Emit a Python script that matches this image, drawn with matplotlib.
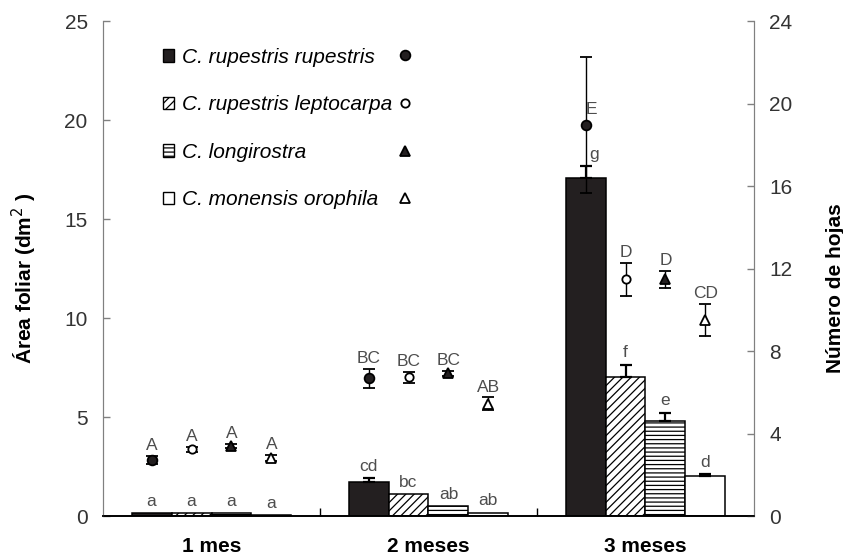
import numpy as np
import matplotlib
matplotlib.use("Agg")
import matplotlib.pyplot as plt
from matplotlib.patches import Patch
from matplotlib.lines import Line2D

plt.rcParams['font.family'] = ['Liberation Sans', 'DejaVu Sans']
plt.rcParams['hatch.linewidth'] = 0.9

meses = ['1 mes', '2 meses', '3 meses']
especies = ['C. rupestris rupestris', 'C. rupestris leptocarpa',
            'C. longirostra', 'C. monensis orophila']

# leaf area (dm2) -> bars, rows = species, columns = month
area = np.array([[0.15, 1.73, 17.05],
                 [0.15, 1.10, 7.00],
                 [0.15, 0.52, 4.80],
                 [0.03, 0.17, 2.00]])
area_err = np.array([[0.0, 0.17, 0.62],
                     [0.0, 0.0, 0.65],
                     [0.0, 0.0, 0.42],
                     [0.0, 0.0, 0.10]])
area_letras = [['a', 'cd', 'g'],
               ['a', 'bc', 'f'],
               ['a', 'ab', 'e'],
               ['a', 'ab', 'd']]

# number of leaves -> points on the right axis
hojas = np.array([[2.70, 6.67, 18.95],
                  [3.23, 6.72, 11.48],
                  [3.38, 6.92, 11.48],
                  [2.80, 5.45, 9.50]])
hojas_err = np.array([[0.20, 0.48, 3.30],
                      [0.12, 0.27, 0.80],
                      [0.10, 0.12, 0.42],
                      [0.15, 0.30, 0.77]])
hojas_letras = [['A', 'BC', 'E'],
                ['A', 'BC', 'D'],
                ['A', 'BC', 'D'],
                ['A', 'AB', 'CD']]

negro = '#231f20'
hatches = ['', '////', '----', '']
fills = [negro, 'white', 'white', 'white']
markers = ['o', 'o', '^', '^']
mfills = [negro, 'white', negro, 'white']
msizes = [7, 6, 7, 6.5]
gris = '#808080'
letra_color = '#4d4d4d'

fig = plt.figure(figsize=(8.43, 5.59), dpi=100)
ax = fig.add_axes([0.1222, 0.0769, 0.7722, 0.8855])
ax2 = ax.twinx()

centros = np.arange(3) + 0.5
w = 0.184
offsets = (np.arange(4) - 1.5) * w

for i in range(4):
    x = centros + offsets[i]
    ax.bar(x, area[i], width=w, color=fills[i], edgecolor='black',
           linewidth=1.1, hatch=hatches[i], zorder=2)
    con_err = area_err[i] > 0
    ax.errorbar(x[con_err], area[i][con_err],
                yerr=[np.zeros(con_err.sum()), area_err[i][con_err]],
                fmt='none', ecolor='black', elinewidth=1.6, capsize=4.5,
                capthick=1.6, zorder=3)
    for j in range(3):
        dx = 6 if (i, j) == (0, 2) else 0
        ax.annotate(area_letras[i][j], (x[j], area[i][j] + area_err[i][j]),
                    xytext=(dx, 3), textcoords='offset points',
                    ha='center', va='bottom', fontsize=12.5, color=letra_color)

    ax2.errorbar(x, hojas[i], yerr=hojas_err[i], fmt=markers[i],
                 color='black', mfc=mfills[i], mec='black', mew=1.3,
                 ms=msizes[i], elinewidth=1, capsize=4, capthick=1, zorder=4)
    for j in range(3):
        if (i, j) == (0, 2):
            # long error bar: letter goes next to the line, just above the mean
            ax2.annotate(hojas_letras[i][j], (x[j], hojas[i][j]),
                         xytext=(4.5, 6), textcoords='offset points',
                         ha='center', va='bottom', fontsize=12.5,
                         color=letra_color)
        else:
            ax2.annotate(hojas_letras[i][j],
                         (x[j], hojas[i][j] + hojas_err[i][j]),
                         xytext=(0, 2), textcoords='offset points',
                         ha='center', va='bottom', fontsize=12.5,
                         color=letra_color)

ax.set_xlim(0, 3)
ax.set_ylim(0, 25)
ax2.set_ylim(0, 24)
ax.set_yticks(np.arange(0, 26, 5))
ax2.set_yticks(np.arange(0, 25, 4))

ax.set_xticks([1, 2])
ax.set_xticklabels([])
ax.set_xticks(centros, minor=True)
ax.set_xticklabels(meses, minor=True, fontweight='bold', fontsize=15)
ax.tick_params(axis='x', which='major', direction='in', length=6,
               width=1, color='black')
ax.tick_params(axis='x', which='minor', length=0, pad=15)

ax.tick_params(axis='y', direction='in', length=5, width=1, color=gris,
               labelsize=15, labelcolor='#333333', pad=11)
ax2.tick_params(axis='y', direction='in', length=5, width=1, color=gris,
                labelsize=15, labelcolor='#333333', pad=11)

for a in (ax, ax2):
    a.spines['top'].set_visible(False)
    a.spines['left'].set_color(gris)
    a.spines['right'].set_color(gris)
    a.spines['bottom'].set_color('black')
    a.spines['bottom'].set_linewidth(1.2)
    a.patch.set_visible(False)

ax.set_ylabel('Área foliar (dm$^2$ )', fontsize=15, fontweight='bold')
ax.yaxis.set_label_coords(-0.098, 0.48)
ax2.set_ylabel('Número de hojas', fontsize=15, fontweight='bold')
ax2.yaxis.set_label_coords(1.11, 0.46)

barras_leg = [Patch(facecolor=fills[i], edgecolor='black', hatch=hatches[i],
                    linewidth=1) for i in range(4)]
leg1 = ax2.legend(barras_leg, especies, loc='upper left',
                  bbox_to_anchor=(0.092, 0.946), frameon=False,
                  prop=dict(style='italic', size=15),
                  handlelength=0.55, handleheight=0.55, handletextpad=0.35,
                  labelspacing=1.37, borderpad=0, borderaxespad=0)
ax2.add_artist(leg1)

puntos_leg = [Line2D([], [], ls='none', marker=markers[i], mfc=mfills[i],
                     mec='black', mew=1.3, ms=msizes[i]) for i in range(4)]
ax2.legend(puntos_leg, [''] * 4, loc='upper left',
           bbox_to_anchor=(0.448, 0.946), frameon=False,
           prop=dict(size=15), handlelength=1, handletextpad=0,
           labelspacing=1.37, borderpad=0, borderaxespad=0)

fig.savefig('out.png', dpi=100)
